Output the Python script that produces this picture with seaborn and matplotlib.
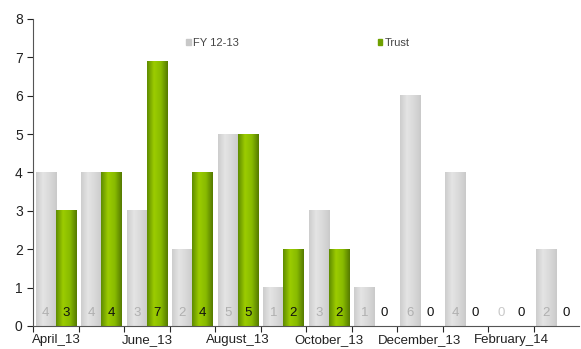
import seaborn as sns
import matplotlib.pyplot as plt
import numpy as np
import pandas as pd
from matplotlib.colors import LinearSegmentedColormap

months = ["April_13", "May_13", "June_13", "July_13", "August_13", "September_13",
          "October_13", "November_13", "December_13", "January_14", "February_14", "March_14"]
fy_12_13 = [4, 4, 3, 2, 5, 1, 3, 1, 6, 4, 0, 2]
trust = [3, 4, 6.9, 4, 5, 2, 2, 0, 0, 0, 0, 0]
series = ["FY 12-13", "Trust"]

sns.set_style("white")
plt.rcParams['font.family'] = ['Liberation Sans', 'DejaVu Sans']

df = pd.DataFrame({
    "month": months * 2,
    "value": fy_12_13 + trust,
    "series": [series[0]] * len(months) + [series[1]] * len(months),
})

fig = plt.figure(figsize=(5.81, 3.49), dpi=100)
ax = fig.add_axes([0.057, 0.066, 0.94, 0.88])

palette = {"FY 12-13": "#d9d9d9", "Trust": "#84b800"}
sns.barplot(data=df, x="month", y="value", hue="series", palette=palette,
            width=0.88, gap=0, ax=ax, legend=False, saturation=1)

# soft cylinder-like shading, as in the original Excel chart
shades = [
    LinearSegmentedColormap.from_list("g", ["#cdcdcd", "#e4e4e4", "#d9d9d9", "#cacaca"]),
    LinearSegmentedColormap.from_list("t", ["#5f8c00", "#9ccc00", "#88bb00", "#557a00"]),
]
grad = np.linspace(0, 1, 64).reshape(1, -1)
for bars, cmap in zip(ax.containers, shades):
    for patch in bars:
        h = patch.get_height()
        if h <= 0:
            continue
        x0 = patch.get_x()
        ax.imshow(grad, extent=[x0, x0 + patch.get_width(), 0, h], aspect="auto",
                  cmap=cmap, zorder=patch.get_zorder() + 0.1, interpolation="bilinear")

ax.set_ylim(0, 8)
ax.set_xlim(-0.5, 11.5)
ax.set_yticks(range(9))
ax.tick_params(axis="y", length=4, labelsize=10, colors="#222222", direction="out", left=True)

# tick marks at category boundaries, labels on every other month
ax.set_xticks([i - 0.5 for i in range(12)])
ax.set_xticklabels([])
ax.tick_params(axis="x", length=4, direction="out", bottom=True)
ax.set_xticks(range(0, 12, 2), minor=True)
ax.set_xticklabels(months[0::2], minor=True, fontsize=9.5, color="#222222")
ax.tick_params(axis="x", which="minor", length=0, pad=6)

ax.set_xlabel("")
ax.set_ylabel("")
for side in ["top", "right"]:
    ax.spines[side].set_visible(False)
for side in ["left", "bottom"]:
    ax.spines[side].set_color("#555555")
    ax.spines[side].set_linewidth(0.8)

# value labels near the base of each bar
for bars, vals, col, zero_col in [(ax.containers[0], fy_12_13, "#b0b0b0", "#c8c8c8"),
                                  (ax.containers[1], trust, "#111111", "#111111")]:
    for patch, v in zip(bars, vals):
        x = patch.get_x() + patch.get_width() / 2
        ax.text(x, 0.33, f"{v:.0f}", ha="center", va="center", fontsize=9.5,
                color=col if v else zero_col, zorder=5)

handles = [plt.Rectangle((0, 0), 1, 1, color=c) for c in ["#c8c8c8", "#6fa000"]]
ax.legend(handles, series, ncol=2, frameon=False, loc="upper left",
          bbox_to_anchor=(0.262, 0.97), handlelength=0.4, handleheight=0.4,
          handletextpad=0.2, columnspacing=12.5, fontsize=8, labelcolor="#444444")

fig.savefig("out.png", dpi=100)
